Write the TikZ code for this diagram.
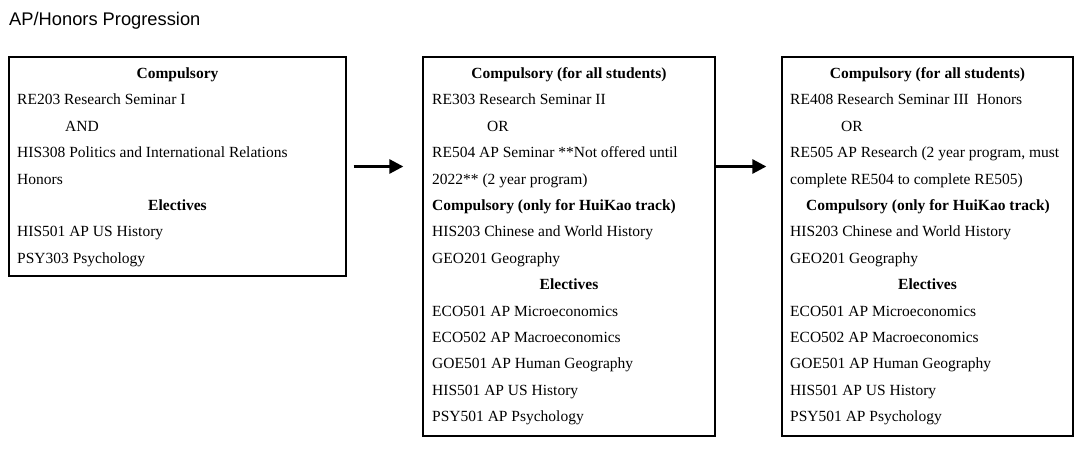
\documentclass[tikz,border=0pt]{standalone}
\usepackage{fontspec}
\setmainfont{Liberation Serif}
\newfontfamily\titlefont{Liberation Sans}
\usetikzlibrary{arrows.meta}
\begin{document}
\begin{tikzpicture}[x=1pt,y=-1pt,
  box/.style={draw=black,line width=1.3pt,inner sep=0pt,fill=none},
  ln/.style={anchor=base west,inner sep=0pt,font=\fontsize{15.5}{18}\selectfont},
  cl/.style={anchor=base,inner sep=0pt,font=\fontsize{15.5}{18}\selectfont\bfseries},
  bl/.style={anchor=base west,inner sep=0pt,font=\fontsize{15.5}{18}\selectfont\bfseries},
  arr/.style={line width=2.8pt,-{Triangle[length=14pt,width=14pt]}}]
\useasboundingbox (0,0) rectangle (1089,449);
\node[anchor=base west,inner sep=0pt,font=\titlefont\fontsize{18.3}{21}\selectfont] (title) at (9,25.5) {AP/Honors Progression};
% boxes
\node[box,minimum width=337pt,minimum height=219pt] (b1) at (177.5,166.5) {};
\node[box,minimum width=292pt,minimum height=379pt] (b2) at (569,246.5) {};
\node[box,minimum width=291pt,minimum height=379pt] (b3) at (927.5,246.5) {};
% box 1
\node[cl] (a0) at (177.5,78.5) {Compulsory};
\node[ln] (a1) at (17,104.9) {RE203 Research Seminar I};
\node[ln] (a2) at (65,131.3) {AND};
\node[ln] (a3) at (17,157.7) {HIS308 Politics and International Relations};
\node[ln] (a4) at (17,184.1) {Honors};
\node[cl] (a5) at (177.5,210.5) {Electives};
\node[ln] (a6) at (17,236.9) {HIS501 AP US History};
\node[ln] (a7) at (17,263.3) {PSY303 Psychology};
% box 2
\node[cl] (c0) at (569,78.5) {Compulsory (for all students)};
\node[ln] (c1) at (432,104.9) {RE303 Research Seminar II};
\node[ln] (c2) at (487,131.3) {OR};
\node[ln] (c3) at (432,157.7) {RE504 AP Seminar **Not offered until};
\node[ln] (c4) at (432,184.1) {2022** (2 year program)};
\node[bl] (c5) at (432,210.5) {Compulsory (only for HuiKao track)};
\node[ln] (c6) at (432,236.9) {HIS203 Chinese and World History};
\node[ln] (c7) at (432,263.3) {GEO201 Geography};
\node[cl] (c8) at (569,289.7) {Electives};
\node[ln] (c9) at (432,316.1) {ECO501 AP Microeconomics};
\node[ln] (c10) at (432,342.5) {ECO502 AP Macroeconomics};
\node[ln] (c11) at (432,368.9) {GOE501 AP Human Geography};
\node[ln] (c12) at (432,395.3) {HIS501 AP US History};
\node[ln] (c13) at (432,421.7) {PSY501 AP Psychology};
% box 3
\node[cl] (d0) at (927.5,78.5) {Compulsory (for all students)};
\node[ln] (d1) at (790,104.9) {RE408 Research Seminar III\ \ Honors};
\node[ln] (d2) at (841,131.3) {OR};
\node[ln] (d3) at (790,157.7) {RE505 AP Research (2 year program, must};
\node[ln] (d4) at (790,184.1) {complete RE504 to complete RE505)};
\node[cl] (d5) at (928,210.5) {Compulsory (only for HuiKao track)};
\node[ln] (d6) at (790,236.9) {HIS203 Chinese and World History};
\node[ln] (d7) at (790,263.3) {GEO201 Geography};
\node[cl] (d8) at (927.5,289.7) {Electives};
\node[ln] (d9) at (790,316.1) {ECO501 AP Microeconomics};
\node[ln] (d10) at (790,342.5) {ECO502 AP Macroeconomics};
\node[ln] (d11) at (790,368.9) {GOE501 AP Human Geography};
\node[ln] (d12) at (790,395.3) {HIS501 AP US History};
\node[ln] (d13) at (790,421.7) {PSY501 AP Psychology};
% arrows
\coordinate (e1) at ([xshift=-19pt]b1.east -| b2.west);
\draw[arr] ([xshift=7pt]b1.east) -- (e1);
\coordinate (s2) at (b2.east |- b1.east);
\coordinate (e2) at ([xshift=-15pt]b1.east -| b3.west);
\draw[arr] (s2) -- (e2);
\end{tikzpicture}
\end{document}
